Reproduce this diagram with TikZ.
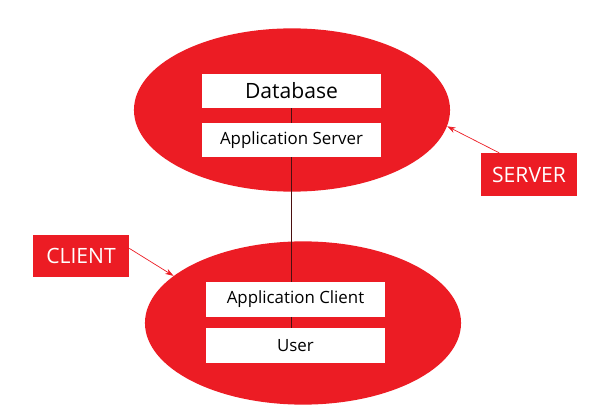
\documentclass[tikz,border=0pt]{standalone}
\usepackage{fontspec}
\setmainfont{Open Sans}
\usetikzlibrary{arrows.meta, shapes.geometric}
\definecolor{tierred}{HTML}{EC1C24}
\definecolor{linkbrown}{HTML}{4A1010}
\tikzset{
    tiers/.style={x=0.025cm, y=-0.025cm},
    tier/.style={ellipse, fill=tierred, inner sep=0pt, minimum width=7.9cm, minimum height=4.08cm},
    layer/.style={fill=white, inner sep=0pt, minimum width=4.475cm, minimum height=0.85cm, font=\fontsize{12}{14}\selectfont},
    tag/.style={fill=tierred, text=white, inner sep=0pt, minimum width=2.4cm, minimum height=1.07cm, font=\fontsize{15}{18}\selectfont},
    link/.style={draw=linkbrown, line width=0.7pt},
    pointer/.style={-{Stealth[length=6pt, width=4pt]}, draw=tierred, line width=0.5pt},
}

\begin{document}
\begin{tikzpicture}[tiers]
    \useasboundingbox (0,0) rectangle (600,413);

    % the two tiers
    \node[tier] (server) at (292,110) {};
    \node[tier] (client) at (303,323) {};

    \node[layer, font=\fontsize{15}{18}\selectfont] (db) at (291.5,91) {Database};
    \node[layer]                 (appsrv) at (291.5,140)   {Application Server};
    \node[layer]                 (appcli) at (295.5,299.5) {Application Client};
    \node[layer]                 (user)   at (295.5,345.5) {User};

    \node[tag] (srvtag) at (529,174.5) {SERVER};
    \node[tag] (clitag) at (81,256)    {CLIENT};

    % vertical link through the layers
    \draw[link] (db.south) -- (appsrv.north);
    \draw[link] (appsrv.south) -- (appsrv.south |- appcli.north);
    \draw[link] (appsrv.south |- appcli.south) -- (appsrv.south |- user.north);

    % labels pointing at the tiers
    \draw[pointer] (srvtag.144.4) -- (server.-6.8);
    \draw[pointer] (clitag.9.5) -- (client.160.5);
\end{tikzpicture}
\end{document}
